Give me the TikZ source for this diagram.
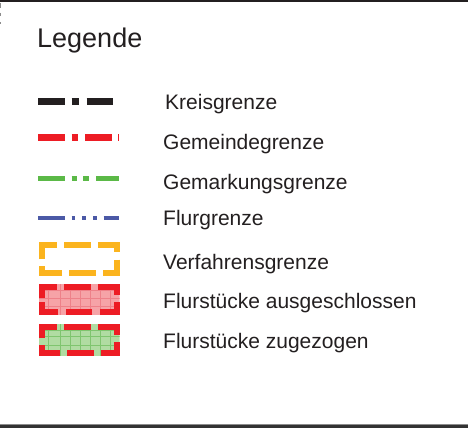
\documentclass[tikz,border=0pt]{standalone}
\usepackage{fontspec}
\setmainfont{Liberation Sans}
\definecolor{framec}{HTML}{231F20}
\definecolor{txtc}{HTML}{231F20}
\definecolor{kreisc}{HTML}{231F20}
\definecolor{gemc}{HTML}{ED1C24}
\definecolor{gmkc}{HTML}{5BB947}
\definecolor{flurc}{HTML}{4B59A6}
\definecolor{verfc}{HTML}{FBB41E}
\definecolor{pinkfill}{HTML}{F6A3A7}
\definecolor{pinkgrid}{HTML}{EE8189}
\definecolor{greenfill}{HTML}{B0DCA2}
\definecolor{greengrid}{HTML}{7FC56F}
\tikzset{
  lbl/.style={anchor=base west, inner sep=0pt, text=txtc, font=\fontsize{21}{25}\selectfont},
  rectdash/.style={line cap=butt, line join=miter, dash pattern=on 26.7pt off 7.3pt}
}
\begin{document}
\begin{tikzpicture}[x=1pt,y=-1pt]
\useasboundingbox (0,0) rectangle (468,428);
\fill[white] (0,0) rectangle (468,428);
% frame remnants
\fill[framec] (0,0) rectangle (468,2.5);
\fill[black!45] (0,423.8) rectangle (468,425);
\fill[black!80] (0,425) rectangle (468,428);
\draw[black!45, line width=1pt] (0.5,3)--(0.5,8) (0.5,13)--(0.5,16) (0.5,22.5)--(0.5,24.5);
% title
\node[anchor=base west, inner sep=0pt, text=txtc, font=\fontsize{27}{31}\selectfont] (title) at (37,48) {Legende};
% line samples
\draw[kreisc, line width=7pt, dash pattern=on 26.7pt off 6.7pt on 7.6pt off 7.4pt] (38.3,101) -- (112.7,101);
\draw[gemc, line width=6.7pt, dash pattern=on 26.7pt off 6.7pt on 6.6pt off 6.7pt] (38.3,137.7) -- (119,137.7);
\draw[gmkc, line width=5pt, dash pattern=on 27pt off 6.7pt on 5pt off 6.6pt on 5.7pt off 7pt] (38,178.2) -- (119,178.2);
\draw[flurc, line width=4pt, dash pattern=on 27pt off 6.7pt on 3.3pt off 7.3pt on 3.7pt off 7pt on 3.7pt off 7pt] (38,218) -- (119,218);
% Verfahrensgrenze
\draw[verfc, line width=6pt, rectdash] (41.5,256) -- (41.5,244.5) -- (117,244.5) -- (117,272.5) -- (41.5,272.5) -- cycle;
% Flurstuecke ausgeschlossen
\begin{scope}
\clip (39,284) rectangle (119.5,314.5);
\fill[pinkfill] (39,284) rectangle (119.5,314.5);
\foreach \x in {48.3,60,70,80,90,100,110} \draw[pinkgrid, line width=1pt] (\x,284) -- (\x,315);
\foreach \y in {290,298.3,306.7} \draw[pinkgrid, line width=1pt] (39,\y) -- (120,\y);
\end{scope}
\draw[gemc, line width=6pt, rectdash] (41.6,298) -- (41.6,286.6) -- (116.7,286.6) -- (116.7,311.7) -- (41.6,311.7) -- cycle;
% Flurstuecke zugezogen
\begin{scope}
\clip (39,324) rectangle (119.5,356);
\fill[greenfill] (39,324) rectangle (119.5,356);
\foreach \x in {48.3,60,70,80,90,100,110} \draw[greengrid, line width=1pt] (\x,324) -- (\x,356);
\foreach \y in {330,336.7,345} \draw[greengrid, line width=1pt] (39,\y) -- (120,\y);
\end{scope}
\draw[gemc, line width=6pt, rectdash] (41.6,338) -- (41.6,326.6) -- (116.7,326.6) -- (116.7,353.3) -- (41.6,353.3) -- cycle;
% labels
\node[lbl] (lkreis) at (165,109) {Kreisgrenze};
\node[lbl] (lgem) at (163,149) {Gemeindegrenze};
\node[lbl] (lgmk) at (163,189) {Gemarkungsgrenze};
\node[lbl] (lflur) at (163,225) {Flurgrenze};
\node[lbl] (lverf) at (163,269) {Verfahrensgrenze};
\node[lbl] (laus) at (163,308) {Flurstücke ausgeschlossen};
\node[lbl] (lzu) at (163,348) {Flurstücke zugezogen};
\end{tikzpicture}
\end{document}
